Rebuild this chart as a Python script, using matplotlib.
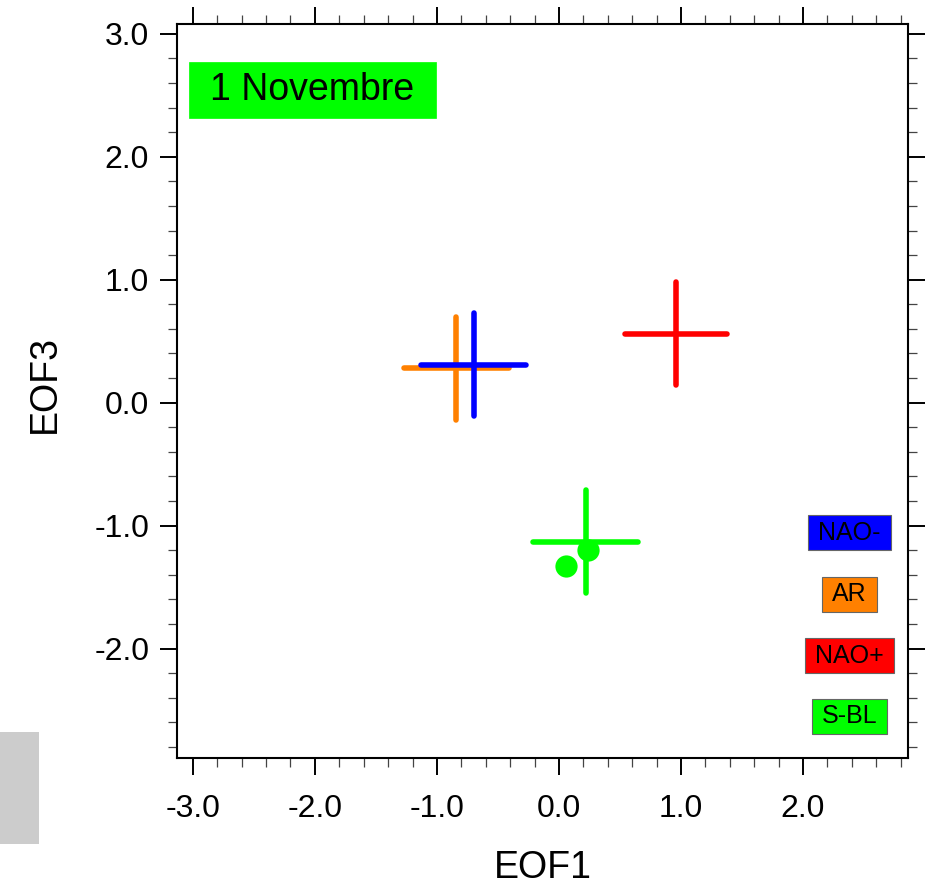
import matplotlib
matplotlib.use('Agg')
import matplotlib.pyplot as plt
from matplotlib.patches import Rectangle
from matplotlib.path import Path
from matplotlib.ticker import MultipleLocator, FormatStrFormatter

plt.rcParams['font.family'] = ['Liberation Sans', 'DejaVu Sans']

# regimes: centre of each cross and its half-length along EOF1 / EOF3
regimes = ['NAO-', 'AR', 'NAO+', 'S-BL']
colors = ['#0000FF', '#FF8000', '#FF0000', '#00FF00']
eof1_center = [-0.70, -0.84, 0.96, 0.22]
eof3_center = [0.31, 0.28, 0.56, -1.13]
eof1_half = [0.43, 0.43, 0.42, 0.43]
eof3_half = [0.42, 0.42, 0.42, 0.42]

# single points for S-BL
dots_eof1 = [0.24, 0.06]
dots_eof3 = [-1.20, -1.33]

date_label = '1 Novembre'


def padded_box(px, py):
    # rectangle box with separate x / y padding (fraction of font size)
    def style(x0, y0, width, height, mutation_size):
        dx, dy = px * mutation_size, py * mutation_size
        x0, y0 = x0 - dx, y0 - dy
        x1, y1 = x0 + width + 2 * dx, y0 + height + 2 * dy
        return Path([(x0, y0), (x1, y0), (x1, y1), (x0, y1), (x0, y0)],
                    closed=True)
    return style


fig = plt.figure(figsize=(9.29, 8.91), dpi=100)
ax = fig.add_axes([0.1905, 0.1493, 0.7869, 0.8238])
ax.set_xlim(-3.13, 2.86)
ax.set_ylim(-2.89, 3.08)

# draw AR first so NAO- sits on top
order = [1, 0, 2, 3]
for i in order:
    x, y = eof1_center[i], eof3_center[i]
    ax.plot([x - eof1_half[i], x + eof1_half[i]], [y, y], color=colors[i],
            lw=4.0, solid_capstyle='round', zorder=3)
    ax.plot([x, x], [y - eof3_half[i], y + eof3_half[i]], color=colors[i],
            lw=4.0, solid_capstyle='round', zorder=3)

ax.plot(dots_eof1, dots_eof3, 'o', color='#00FF00', ms=16, mec='none', zorder=4)

# date label box
ax.text(-2.02, 2.54, date_label, fontsize=27, ha='center', va='center',
        bbox=dict(boxstyle=padded_box(0.57, 0.27), fc='#00FF00', ec='#00FF00', lw=0.5))

# legend boxes
leg_y = [-1.06, -1.56, -2.06, -2.55]
for i, name in enumerate(regimes):
    ax.text(2.38, leg_y[i], name, fontsize=18, ha='center', va='center', zorder=5,
            bbox=dict(boxstyle=padded_box(0.4, 0.22), fc=colors[i], ec='#666666', lw=0.8))

# axes styling
ax.xaxis.set_major_locator(MultipleLocator(1.0))
ax.xaxis.set_minor_locator(MultipleLocator(0.2))
ax.yaxis.set_major_locator(MultipleLocator(1.0))
ax.yaxis.set_minor_locator(MultipleLocator(0.2))
ax.xaxis.set_major_formatter(FormatStrFormatter('%.1f'))
ax.yaxis.set_major_formatter(FormatStrFormatter('%.1f'))
ax.tick_params(which='both', direction='out', top=True, right=True,
               labeltop=False, labelright=False)
ax.tick_params(which='major', length=12, width=1.4, labelsize=23)
ax.tick_params(axis='x', which='major', pad=14)
ax.tick_params(axis='y', which='major', pad=8)
ax.tick_params(which='minor', length=6.5, width=0.9, color='#444444')
for sp in ax.spines.values():
    sp.set_linewidth(1.5)

ax.set_xlabel('EOF1', fontsize=27)
ax.set_ylabel('EOF3', fontsize=27)
ax.xaxis.set_label_coords(0.5, -0.15)
ax.xaxis.label.set_va('center')
ax.yaxis.set_label_coords(-0.181, 0.51)
ax.yaxis.label.set_va('center')

# grey block at the lower left edge of the page
fig.patches.append(Rectangle((0, 1 - 844 / 891), 39 / 929, 112 / 891,
                             transform=fig.transFigure, fc='#CCCCCC', ec='none'))

fig.savefig('out.png', dpi=100, facecolor='white')
plt.close(fig)
